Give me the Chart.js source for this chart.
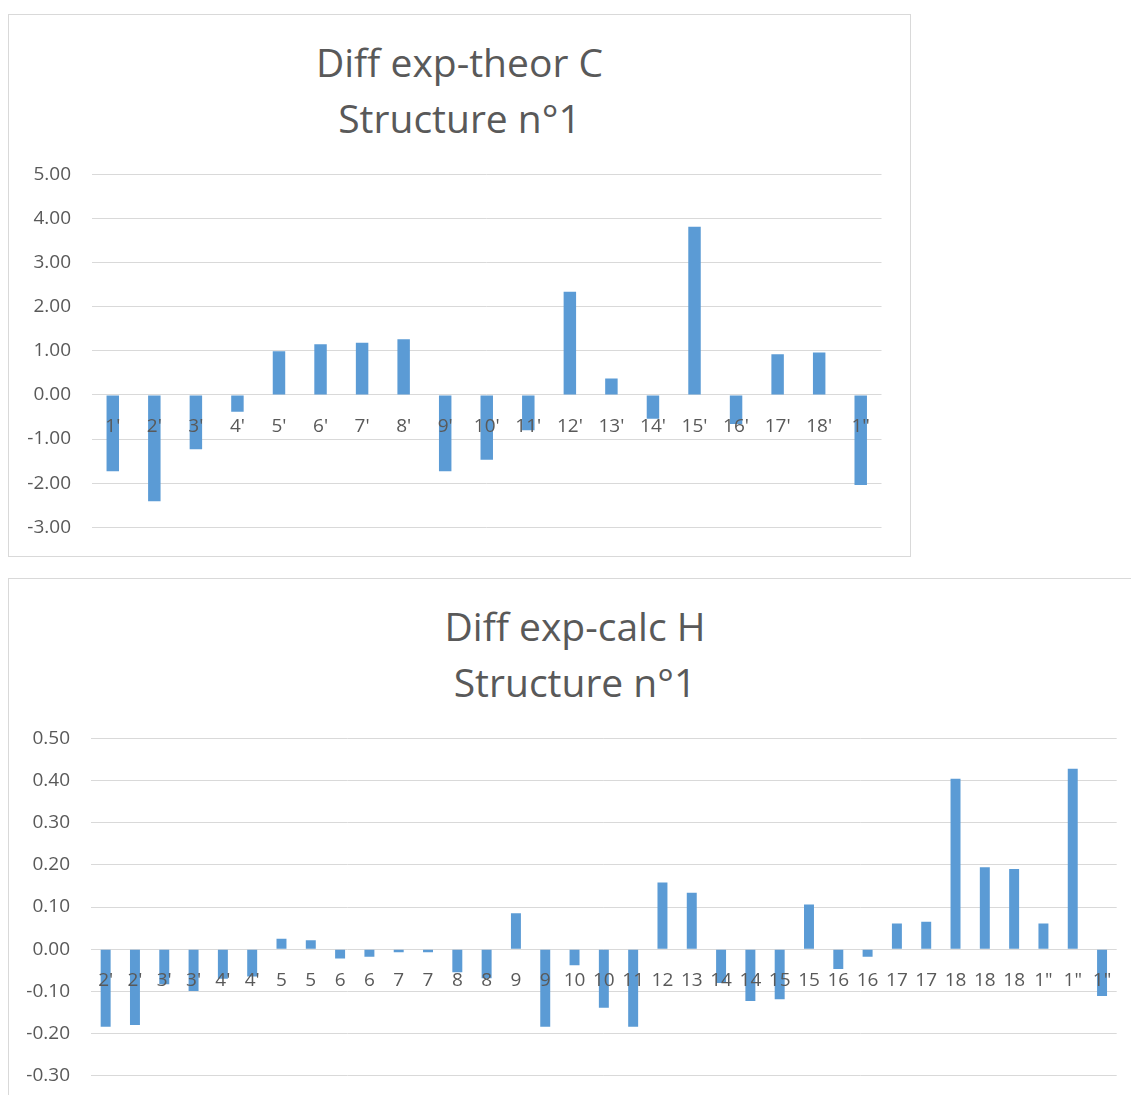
<!DOCTYPE html>
<html>
<head>
<meta charset="utf-8">
<script src="https://cdn.jsdelivr.net/npm/chart.js@4.4.1/dist/chart.umd.min.js"></script>
<style>
    body { margin: 0; background: #fff; width: 1131px; height: 1095px; overflow: hidden; position: relative; }
    .caja { position: absolute; border: 1px solid #d9d9d9; background: #fff; }
    #cajaC { left: 8px; top: 14px; width: 901px; height: 541px; }
    #cajaH { left: 8px; top: 578px; width: 1132px; height: 541px; }
    .titulo {
        position: absolute; left: 0; right: 0; top: 19px;
        text-align: center; color: #595959;
        font-family: 'Open Sans', sans-serif; font-size: 39px; line-height: 56px;
    }
    canvas { display: block; position: absolute; left: 0; top: 0; }
</style>
</head>
<body>
<div class="caja" id="cajaC">
    <div class="titulo" id="tituloC"></div>
    <canvas id="graficoC" width="901" height="547"></canvas>
</div>
<div class="caja" id="cajaH">
    <div class="titulo" id="tituloH"></div>
    <canvas id="graficoH" width="1132" height="541"></canvas>
</div>
<script>
// -----------------------------
// DATOS
// -----------------------------
const tituloC = ["Diff exp-theor C", "Structure n°1"];
const etiquetasC = ["1'", "2'", "3'", "4'", "5'", "6'", "7'", "8'", "9'", "10'", "11'", "12'", "13'", "14'", "15'", "16'", "17'", "18'", '1"'];
const valoresC = [-1.73, -2.41, -1.23, -0.38, 0.99, 1.15, 1.18, 1.26, -1.73, -1.47, -0.80, 2.34, 0.37, -0.54, 3.81, -0.66, 0.92, 0.96, -2.04];
const ejeC = [-3, 5, 1];   // min, max, paso

const tituloH = ["Diff exp-calc H", "Structure n°1"];
const etiquetasH = ["2'", "2'", "3'", "3'", "4'", "4'", "5", "5", "6", "6", "7", "7", "8", "8", "9", "9", "10", "10", "11",
    "12", "13", "14", "14", "15", "15", "16", "16", "17", "17", "18", "18", "18", '1"', '1"', '1"'];
const valoresH = [-0.184, -0.180, -0.083, -0.099, -0.070, -0.065, 0.025, 0.021, -0.022, -0.018, -0.007, -0.007, -0.055, -0.069,
    0.085, -0.184, -0.038, -0.139, -0.184, 0.158, 0.134, -0.080, -0.123, -0.119, 0.106, -0.047, -0.018, 0.061, 0.065,
    0.404, 0.194, 0.190, 0.061, 0.428, -0.111];
const ejeH = [-0.3, 0.5, 0.1];

// -----------------------------
// ESTILO
// -----------------------------
const fuente = "'Open Sans', sans-serif";
const gris = "#595959";

function ponerTitulo(id, lineas) {
    const div = document.getElementById(id);
    lineas.forEach((texto, i) => {
        if (i > 0) div.appendChild(document.createElement("br"));
        div.appendChild(document.createTextNode(texto));
    });
}

function crearGrafico(id, etiquetas, valores, eje, relleno, anchoEje, porcentaje) {
    return new Chart(document.getElementById(id), {
        type: "bar",
        data: {
            labels: etiquetas,
            datasets: [{
                data: valores,
                backgroundColor: "#5b9bd5",
                categoryPercentage: porcentaje,
                barPercentage: 1
            }]
        },
        options: {
            responsive: false,
            animation: false,
            layout: { padding: relleno },
            plugins: {
                legend: { display: false },
                tooltip: { enabled: false },
                title: { display: false }
            },
            scales: {
                x: {
                    position: { y: 0 },   // etiquetas junto al cero, como en Excel
                    grid: { display: false },
                    border: { display: false },
                    ticks: {
                        z: 1,   // etiquetas por encima de las barras
                        color: gris,
                        font: { family: fuente, size: 19 },
                        padding: 12,
                        maxRotation: 0,
                        autoSkip: false
                    }
                },
                y: {
                    min: eje[0],
                    max: eje[1],
                    afterFit: (s) => { s.width = anchoEje; },
                    grid: { color: "#d9d9d9", drawTicks: false },
                    border: { display: false },
                    ticks: {
                        stepSize: eje[2],
                        color: gris,
                        font: { family: fuente, size: 19 },
                        padding: 21,
                        callback: (v) => v.toFixed(2)
                    }
                }
            }
        }
    });
}

ponerTitulo("tituloC", tituloC);
ponerTitulo("tituloH", tituloH);
crearGrafico("graficoC", etiquetasC, valoresC, ejeC, { left: 0, right: 28.5, top: 159.3, bottom: 34.7 }, 83, 0.3);
crearGrafico("graficoH", etiquetasH, valoresH, ejeH, { left: 0, right: 24.3, top: 159.3, bottom: 44.3 }, 82, 0.34);
</script>
</body>
</html>
